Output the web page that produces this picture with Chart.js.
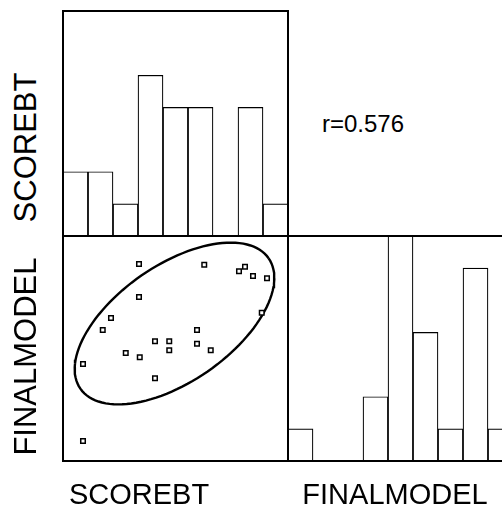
<!DOCTYPE html>
<html>
<head>
<meta charset="utf-8">
<script src="https://cdn.jsdelivr.net/npm/chart.js@4.4.1/dist/chart.umd.min.js"></script>
<style>
  html, body { margin: 0; padding: 0; background: #fff; overflow: hidden; }
  body { width: 502px; height: 506px; position: relative; font-family: "Liberation Sans", Arial, sans-serif; color: #000; }
  canvas { position: absolute; }
  .lbl { position: absolute; text-align: center; white-space: nowrap; }
  .bottom { font-size: 29px; line-height: 29px; width: 240px; top: 480px; }
  .side { font-size: 31px; line-height: 31px; width: 240px; height: 31px; transform: rotate(-90deg); }
</style>
</head>
<body>
<canvas id="histScore" width="229" height="229" style="left:61px;top:9px"></canvas>
<canvas id="scatter" width="229" height="229" style="left:61px;top:234px"></canvas>
<canvas id="histFinal" width="229" height="229" style="left:286px;top:234px"></canvas>

<div class="lbl" id="corr" style="left:322px;top:112px;font-size:24px;line-height:24px"></div>
<div class="lbl side" id="sideScore" style="left:-95px;top:132px"></div>
<div class="lbl side" id="sideFinal" style="left:-95px;top:341px"></div>
<div class="lbl bottom" id="botScore" style="left:19px"></div>
<div class="lbl bottom" id="botFinal" style="left:275px"></div>

<script>
// variable names
const varNames = ["SCOREBT", "FINALMODEL"];
const corrLabel = "r=0.576";

// histogram bins (9 bins each) and counts
const binLabels = ["1", "2", "3", "4", "5", "6", "7", "8", "9"];
const scoreCounts = [2, 2, 1, 5, 4, 4, 0, 4, 1];
const finalCounts = [1, 0, 0, 2, 7, 4, 1, 6, 1];

// scatter values (bin units, 0..9)
const scoreVals = [3.04, 5.65, 7.04, 7.28, 7.60, 8.16, 3.04, 7.95, 1.92, 1.59, 5.36,
                   3.68, 4.25, 5.36, 4.25, 5.91, 2.51, 3.07, 0.80, 3.68, 0.80];
const finalVals = [7.88, 7.85, 7.59, 7.77, 7.40, 7.31, 6.56, 5.93, 5.72, 5.24, 5.24,
                   4.79, 4.79, 4.69, 4.43, 4.43, 4.32, 4.15, 3.88, 3.31, 0.80];

// concentration ellipse: center, semi axes, tilt (degrees)
const ellCenter = [4.46, 5.50];
const ellAxes = [4.58, 2.33];
const ellAngle = 34.7;

document.getElementById("corr").textContent = corrLabel;
document.getElementById("sideScore").textContent = varNames[0];
document.getElementById("sideFinal").textContent = varNames[1];
document.getElementById("botScore").textContent = varNames[0];
document.getElementById("botFinal").textContent = varNames[1];

// black frame around each panel
const framePlugin = {
  id: "frame",
  afterDraw(chart) {
    const a = chart.chartArea;
    const ctx = chart.ctx;
    ctx.save();
    ctx.strokeStyle = "#000";
    ctx.lineWidth = 2;
    ctx.strokeRect(a.left, a.top, a.right - a.left, a.bottom - a.top);
    ctx.restore();
  },
};

const hidden = { display: false };

function histChart(id, counts) {
  return new Chart(document.getElementById(id), {
    type: "bar",
    plugins: [framePlugin],
    data: {
      labels: binLabels,
      datasets: [{
        data: counts,
        backgroundColor: "#fff",
        borderColor: "#000",
        borderWidth: 1.2,
        borderSkipped: false,
        barPercentage: 1,
        categoryPercentage: 1,
      }],
    },
    options: {
      responsive: false,
      animation: false,
      devicePixelRatio: 1,
      layout: { padding: 2, autoPadding: false },
      plugins: { legend: hidden, tooltip: { enabled: false } },
      scales: {
        x: { display: false },
        y: { display: false, min: 0, max: 7 },
      },
    },
  });
}

histChart("histScore", scoreCounts);
histChart("histFinal", finalCounts);

const points = scoreVals.map((v, i) => ({ x: v, y: finalVals[i] }));

const th = ellAngle * Math.PI / 180;
const ellPts = [];
for (let k = 0; k <= 120; k++) {
  const t = 2 * Math.PI * k / 120;
  ellPts.push({
    x: ellCenter[0] + ellAxes[0] * Math.cos(th) * Math.cos(t) - ellAxes[1] * Math.sin(th) * Math.sin(t),
    y: ellCenter[1] + ellAxes[0] * Math.sin(th) * Math.cos(t) + ellAxes[1] * Math.cos(th) * Math.sin(t),
  });
}

new Chart(document.getElementById("scatter"), {
  type: "scatter",
  plugins: [framePlugin],
  data: {
    datasets: [
      {
        data: points,
        pointStyle: "rect",
        pointRadius: 3.2,
        pointBorderWidth: 1.5,
        pointBorderColor: "#000",
        pointBackgroundColor: "#fff",
      },
      {
        type: "line",
        data: ellPts,
        borderColor: "#000",
        borderWidth: 2.4,
        pointRadius: 0,
        fill: false,
        tension: 0,
      },
    ],
  },
  options: {
    responsive: false,
    animation: false,
    devicePixelRatio: 1,
    layout: { padding: 2, autoPadding: false },
    plugins: { legend: hidden, tooltip: { enabled: false } },
    scales: {
      x: { type: "linear", display: false, min: 0, max: 9 },
      y: { type: "linear", display: false, min: 0, max: 9 },
    },
  },
});
</script>
</body>
</html>
